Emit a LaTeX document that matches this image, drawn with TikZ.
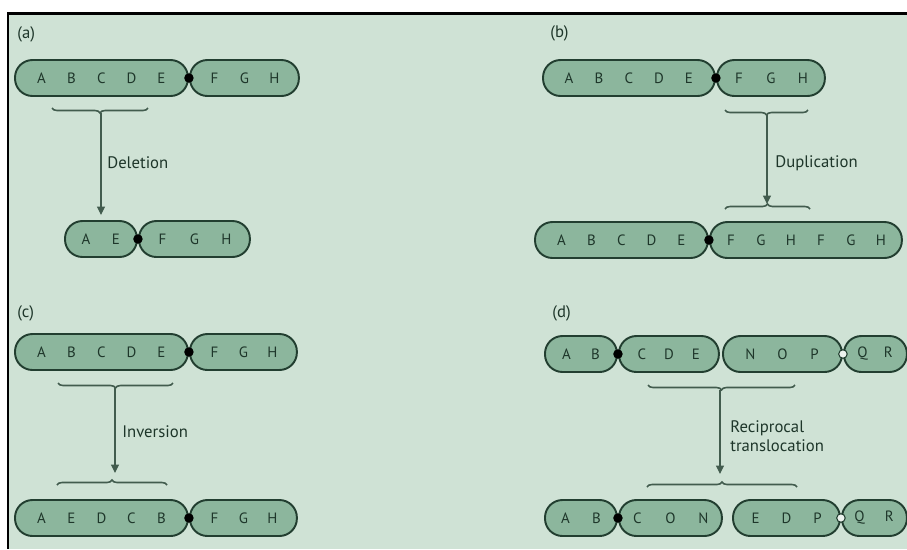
\documentclass[tikz,border=0pt]{standalone}
\usepackage{fontspec}
\setsansfont{PT Sans}
\usetikzlibrary{arrows.meta, positioning, decorations.pathreplacing}
\definecolor{panelGreen}{RGB}{207,226,213}
\definecolor{chromFill}{RGB}{140,182,157}
\definecolor{chromLine}{RGB}{34,62,48}
\definecolor{geneText}{RGB}{30,54,42}
\definecolor{markGray}{RGB}{66,92,78}
\newcommand{\genes}[2][0.6cm]{\foreach \g in {#2}{\makebox[#1]{\g}}}
\tikzset{
    arm/.style={
        rectangle,
        draw=chromLine,
        line width=1.1pt,
        fill=chromFill,
        rounded corners=0.35cm,
        minimum height=0.72cm,
        inner sep=0pt,
        text=geneText,
        font=\sffamily\fontsize{8.5}{9}\selectfont
    },
    centro/.style={circle, fill=black, inner sep=0pt, minimum size=0.19cm},
    openCentro/.style={circle, fill=panelGreen!40!white, draw=chromLine, line width=0.6pt, inner sep=0pt, minimum size=0.17cm},
    bracket/.style={decorate, decoration={brace, amplitude=0.1cm}, draw=markGray, line width=0.9pt},
    flowarrow/.style={-{Triangle[length=1.7mm, width=1.6mm]}, draw=markGray, line width=0.6pt},
    tag/.style={anchor=west, inner sep=0pt, text=geneText, font=\sffamily\fontsize{9.5}{11}\selectfont, align=left}
}
\begin{document}
\begin{tikzpicture}[x=0.02cm, y=-0.02cm]
    \useasboundingbox (0,0) rectangle (907,549);
    \fill[white] (0,0) rectangle (907,549);
    \fill[panelGreen] (8,13) rectangle (907,549);
    \draw[black, line width=1.7pt] (907,13) -- (8,13) -- (8,549);

    % (a) deletion
    \node[tag] (aTag) at (17,34) {(a)};
    \node[arm, minimum width=3.46cm] (aL) at (101.5,78) {\genes{A,B,C,D,E}};
    \node[arm, minimum width=2.18cm, right=0pt of aL] (aR) {\genes{F,G,H}};
    \node[centro] (aC) at (aL.east) {};
    \draw[bracket] (148,108) -- (52,108);
    \coordinate (aCut) at (101,113);
    \node[tag] (aOp) at (107,163) {Deletion};
    \node[arm, minimum width=1.44cm] (aL2) at (101,239) {\genes{A,E}};
    \node[arm, minimum width=2.22cm, right=0pt of aL2] (aR2) {\genes[0.64cm]{F,G,H}};
    \node[centro] (aC2) at (aL2.east) {};
    \draw[flowarrow, shorten >=0.1cm] (aCut) -- (aCut |- aL2.north);

    % (b) duplication
    \node[tag] (bTag) at (550,33) {(b)};
    \node[arm, minimum width=3.44cm] (bL) at (629,78) {\genes{A,B,C,D,E}};
    \node[arm, minimum width=2.16cm, right=0pt of bL] (bR) {\genes[0.64cm]{F,G,H}};
    \node[centro] (bC) at (bL.east) {};
    \draw[bracket] (808,110) -- (725,110);
    \coordinate (bCut) at (767,115);
    \node[tag] (bOp) at (775,163) {Duplication};
    \draw[bracket] (725,209) -- (810,209);
    \coordinate (bJoin) at (767,204);
    \node[arm, minimum width=3.46cm] (bL2) at (621.5,240) {\genes{A,B,C,D,E}};
    \node[arm, minimum width=3.84cm, right=0pt of bL2] (bR2) {\genes{F,G,H,F,G,H}};
    \node[centro] (bC2) at (bL2.east) {};
    \draw[flowarrow] (bCut) -- (bJoin);

    % (c) inversion
    \node[tag] (cTag) at (17,313) {(c)};
    \node[arm, minimum width=3.46cm] (cL) at (101.5,352) {\genes{A,B,C,D,E}};
    \node[arm, minimum width=2.14cm, right=0pt of cL] (cR) {\genes[0.58cm]{F,G,H}};
    \node[centro] (cC) at (cL.east) {};
    \draw[bracket] (173,383) -- (58,383);
    \coordinate (cCut) at (115,388);
    \node[tag] (cOp) at (122,432) {Inversion};
    \draw[bracket] (57,485) -- (167,485);
    \coordinate (cJoin) at (115,480);
    \node[arm, minimum width=3.46cm] (cL2) at (101.5,518) {\genes{A,E,D,C,B}};
    \node[arm, minimum width=2.14cm, right=0pt of cL2] (cR2) {\genes[0.58cm]{F,G,H}};
    \node[centro] (cC2) at (cL2.east) {};
    \draw[flowarrow, shorten >=0.14cm] (cCut) -- (cJoin);

    % (d) reciprocal translocation
    \node[tag] (dTag) at (552,313) {(d)};
    \node[arm, minimum width=1.44cm] (dL) at (581,354) {\genes[0.58cm]{A,B}};
    \node[arm, minimum width=2.0cm, right=0pt of dL] (dR) {\genes[0.54cm]{C,D,E}};
    \node[centro] (dC) at (dL.east) {};
    \node[arm, minimum width=2.38cm] (eL) at (782.5,354) {\genes[0.64cm]{N,O,P}};
    \node[arm, minimum width=1.26cm, right=0pt of eL] (eR) {\genes[0.52cm]{Q,R}};
    \node[openCentro] (eC) at (eL.east) {};
    \draw[bracket] (795,385) -- (648,385);
    \coordinate (dCut) at (720,390);
    \node[tag] (dOp) at (730,436) {Reciprocal\\translocation};
    \draw[bracket] (647,487) -- (797,487);
    \coordinate (dJoin) at (720,482);
    \node[arm, minimum width=1.44cm] (dL2) at (581,518) {\genes[0.62cm]{A,B}};
    \node[arm, minimum width=2.06cm, right=0pt of dL2] (dR2) {\genes[0.66cm]{C,O,N}};
    \node[centro] (dC2) at (dL2.east) {};
    \node[arm, minimum width=2.14cm] (eL2) at (786.5,518) {\genes[0.62cm]{E,D,P}};
    \node[arm, minimum width=1.3cm, right=0pt of eL2] (eR2) {\genes[0.6cm]{Q,R}};
    \node[openCentro] (eC2) at (eL2.east) {};
    \draw[flowarrow, shorten >=0.16cm] (dCut) -- (dJoin);
\end{tikzpicture}
\end{document}
